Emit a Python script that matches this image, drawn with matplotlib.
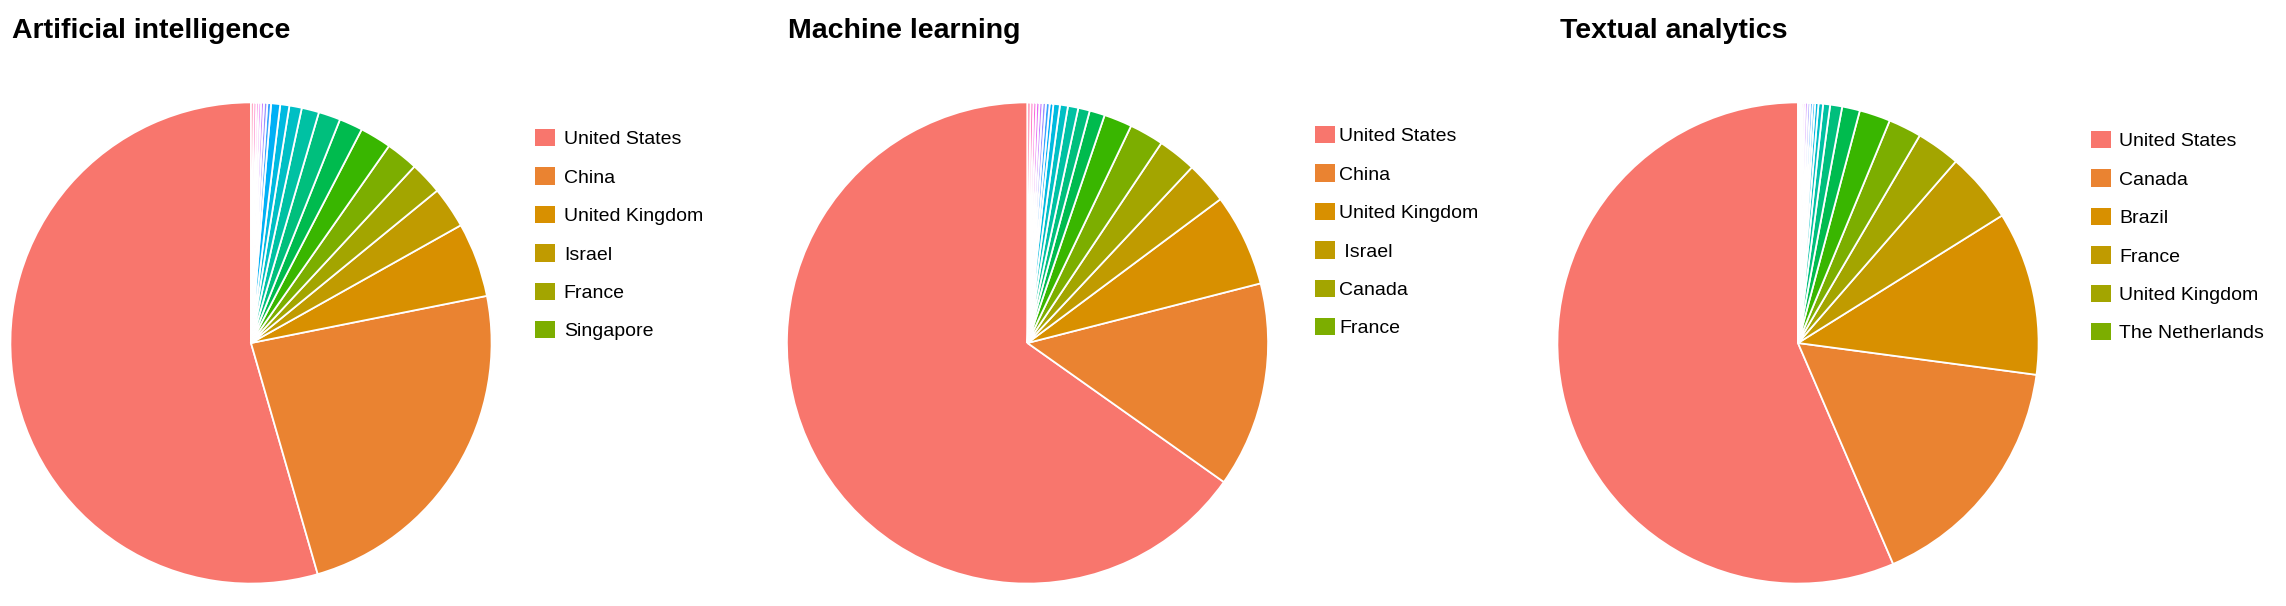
# three pie charts: country share per topic

import numpy as np
import matplotlib
matplotlib.use("Agg")
import matplotlib.pyplot as plt
from matplotlib.patches import Patch

plt.rcParams["font.family"] = ["Liberation Sans", "DejaVu Sans"]

# --- data (degrees; pie normalises them) ---
ai_names = ["United States", "China", "United Kingdom", "Israel", "France", "Singapore"]
ai_values = [196.1, 85.2, 18.0, 10.0, 7.9, 7.8, 7.6, 5.7, 5.3, 4.2,
             3.0, 2.2, 2.2, 0.9, 0.8, 0.7, 0.6, 0.56, 0.64, 0.6]

ml_names = ["United States", "China", "United Kingdom", " Israel", "Canada", "France"]
ml_values = [234.7, 49.65, 22.35, 10.2, 9.3, 8.3, 6.8, 3.7, 2.8, 2.5,
             1.93, 1.58, 0.89, 0.9, 0.8, 0.75, 0.75, 0.7, 0.7, 0.7]

ta_names = ["United States", "Canada", "Brazil", "France", "United Kingdom", "The Netherlands"]
ta_values = [203.3, 59.1, 39.6, 17.0, 10.6, 8.0, 7.5, 4.3, 2.9, 1.7,
             1.1, 0.8, 0.6, 0.6, 0.6, 0.6, 0.5, 0.45, 0.4, 0.35]

titles = ["Artificial intelligence", "Machine learning", "Textual analytics"]


def hue_pal(n):
    """ggplot2 style hue palette (hcl, c=100, l=65)."""
    h = np.linspace(15, 375, n + 1)[:-1]
    L, C = 65.0, 100.0
    U = C * np.cos(np.radians(h))
    V = C * np.sin(np.radians(h))
    XN, YN, ZN = 95.047, 100.0, 108.883
    Y = YN * ((L + 16) / 116) ** 3
    un = 4 * XN / (XN + 15 * YN + 3 * ZN)
    vn = 9 * YN / (XN + 15 * YN + 3 * ZN)
    u = U / (13 * L) + un
    v = V / (13 * L) + vn
    X = 9.0 * Y * u / (4 * v)
    Z = -X / 3 - 5 * Y + 3 * Y / v
    X, Y, Z = X / 100, Y / 100, Z / 100
    r = 3.240479 * X - 1.537150 * Y - 0.498535 * Z
    g = -0.969256 * X + 1.875992 * Y + 0.041556 * Z
    b = 0.055648 * X - 0.204043 * Y + 1.057311 * Z

    def gam(t):
        t = np.where(t > 0.00304, 1.055 * np.abs(t) ** (1 / 2.4) - 0.055, 12.92 * t)
        return np.clip(t, 0, 1)

    return list(zip(gam(r), gam(g), gam(b)))


W, H = 2286, 606
fig = plt.figure(figsize=(W / 100, H / 100), dpi=100)

R = 240.6
pies = [
    (ai_values, ai_names, (251, 343), 12, (535, 129), 0.45),
    (ml_values, ml_names, (1027.5, 343), 788, (1315, 126), 0.2),
    (ta_values, ta_names, (1798, 343), 1560, (2091, 131), 0.42),
]

for (vals, names, (cx, cy), tx, (lx, ly), pad), title in zip(pies, titles):
    ax = fig.add_axes([(cx - R) / W, (H - cy - R) / H, 2 * R / W, 2 * R / H])
    renkler = hue_pal(len(vals))
    wedges, _ = ax.pie(vals, colors=renkler, startangle=90, counterclock=True,
                       wedgeprops=dict(edgecolor="white", linewidth=1.3))
    ax.set_xlim(-1, 1)
    ax.set_ylim(-1, 1)
    ax.set_aspect("equal")
    ax.axis("off")

    handles = [Patch(facecolor=renkler[i], edgecolor="none") for i in range(len(names))]
    fig.legend(handles, names, loc="upper left",
               bbox_to_anchor=(lx / W, 1 - ly / H), frameon=False,
               fontsize=14, handlelength=1.03, handleheight=1.0,
               handletextpad=pad, labelspacing=0.98, borderpad=0, borderaxespad=0)

    fig.text(tx / W, 1 - 38.3 / H, title, fontsize=20.5, fontweight="bold",
             ha="left", va="baseline")

plt.savefig("out.png", dpi=100)
